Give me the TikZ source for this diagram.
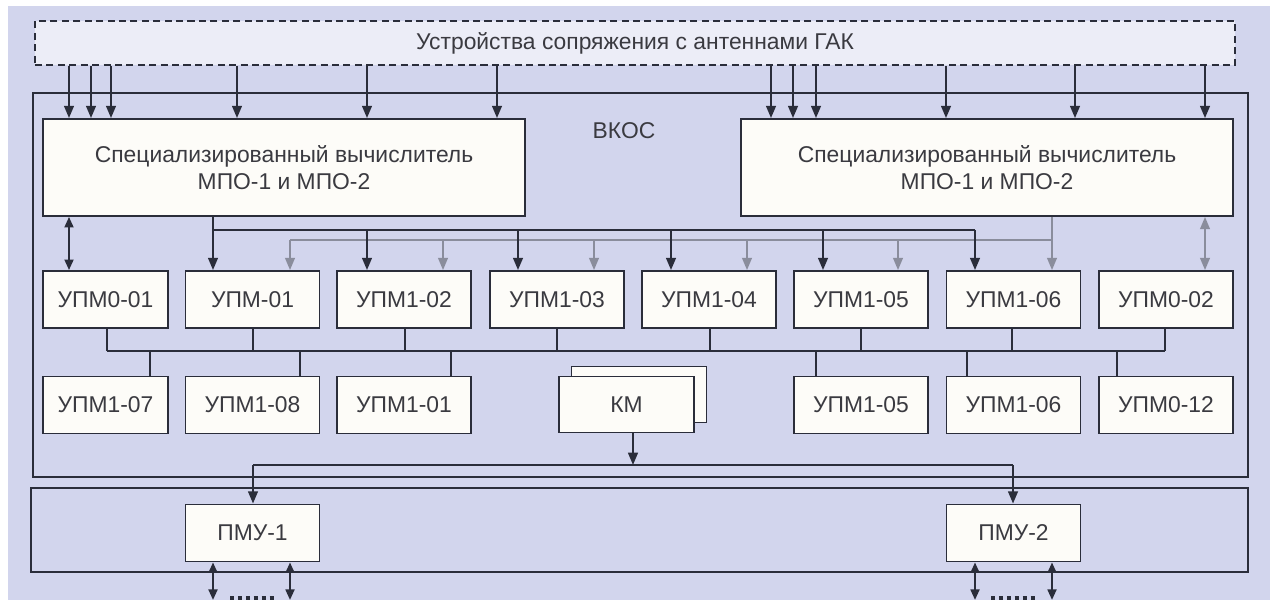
\documentclass[tikz,border=0pt]{standalone}
\usepackage{fontspec}
\setmainfont{Liberation Sans}
\usetikzlibrary{arrows.meta}
\definecolor{bgc}{RGB}{210,213,237}
\definecolor{boxc}{RGB}{253,252,248}
\definecolor{linec}{RGB}{42,45,58}
\definecolor{txtc}{RGB}{58,58,64}
\definecolor{grayc}{RGB}{138,141,156}
\definecolor{gakc}{RGB}{236,237,247}
\begin{document}
\begin{tikzpicture}[x=0.2mm, y=-0.2mm, every node/.style={font=\fontsize{13}{15}\selectfont, text=txtc},
  b/.style={draw=linec, fill=boxc, line width=1pt, minimum width=2.68cm, minimum height=1.14cm, inner sep=0pt, align=center},
  ln/.style={draw=linec, line width=1.3pt},
  thin/.style={draw=linec, line width=0.8pt},
  arr/.style={ln, -{Triangle[length=7pt,width=5.5pt]}},
  darr/.style={ln, {Triangle[length=6pt,width=5pt]}-{Triangle[length=6pt,width=5pt]}},
  gln/.style={draw=grayc, line width=1.2pt},
  garr/.style={gln, -{Triangle[length=7pt,width=5.5pt]}},
  gdarr/.style={gln, {Triangle[length=7pt,width=5.5pt]}-{Triangle[length=7pt,width=5.5pt]}}]
  \useasboundingbox (0,0) rectangle (1270,600);
  \fill[bgc] (8,6) rectangle (1270,600);
  % frames
  \draw[ln] (33,93) rectangle (1248,477);
  \draw[ln] (31,488) rectangle (1248,572);
  \node (vkos) at (624,131) {ВКОС};
  \node[draw=linec, fill=gakc, line width=1pt, dash pattern=on 4pt off 2.5pt, minimum width=24cm, minimum height=0.88cm] (gak) at (635,43) {Устройства сопряжения с антеннами ГАК};
  % computers
  \node[b, minimum width=9.64cm, minimum height=1.94cm] (sv1) at (284,167.5) {Специализированный вычислитель\\МПО-1 и МПО-2};
  \node[b, minimum width=9.84cm, minimum height=1.94cm] (sv2) at (987,167.5) {Специализированный вычислитель\\МПО-1 и МПО-2};
  % first row
  \node[b, minimum width=2.5cm] (u1) at (105.5,299.5) {УПМ0-01};
  \node[b] (u2) at (252.5,299.5) {УПМ-01};
  \node[b] (u3) at (404,299.5) {УПМ1-02};
  \node[b] (u4) at (557,299.5) {УПМ1-03};
  \node[b] (u5) at (709,299.5) {УПМ1-04};
  \node[b] (u6) at (861,299.5) {УПМ1-05};
  \node[b] (u7) at (1013.5,299.5) {УПМ1-06};
  \node[b] (u8) at (1166,299.5) {УПМ0-02};
  % second row
  \node[b, minimum width=2.5cm] (v1) at (105.5,405) {УПМ1-07};
  \node[b] (v2) at (252.5,405) {УПМ1-08};
  \node[b] (v3) at (404,405) {УПМ1-01};
  \node[b, minimum width=2.7cm, minimum height=1.12cm] (kmb) at (639,394.5) {};
  \node[b, minimum width=2.7cm, minimum height=1.12cm] (km) at (626.5,404.5) {КМ};
  \node[b] (v5) at (861,405) {УПМ1-05};
  \node[b] (v6) at (1013.5,405) {УПМ1-06};
  \node[b] (v7) at (1166,405) {УПМ0-12};
  % output units
  \node[b] (pmu1) at (252.5,533) {ПМУ-1};
  \node[b] (pmu2) at (1013.5,533) {ПМУ-2};
  % inputs from the antenna units
  \foreach \x in {69,91,111,237,367,497}
    \draw[arr] (gak.south -| \x,0) -- (sv1.north -| \x,0);
  \foreach \x in {771,793,816,946,1075,1205}
    \draw[arr] (gak.south -| \x,0) -- (sv2.north -| \x,0);
  % gray bus
  \coordinate (gb) at (290,240);
  \coordinate (ge) at (1052,240);
  \draw[gln] (gb) -- (ge);
  \draw[garr] (sv2.south -| ge) -- (u7.north -| ge);
  \foreach \x/\n in {290/u2,443/u3,594/u4,747/u5,898/u6}
    \draw[garr] (\x,240) -- (\n.north -| \x,0);
  \draw[gdarr] (sv2.south -| 1205,0) -- (u8.north -| 1205,0);
  % black bus
  \coordinate (kb) at (213,230);
  \coordinate (ke) at (975,230);
  \draw[ln] (kb) -- (ke);
  \draw[arr] (sv1.south -| kb) -- (u2.north -| kb);
  \foreach \x/\n in {367/u3,518/u4,671/u5,823/u6}
    \draw[arr] (\x,230) -- (\n.north -| \x,0);
  \draw[arr] (ke) -- (u7.north -| ke);
  \draw[darr] (sv1.south -| 69,0) -- (u1.north -| 69,0);
  % link between rows
  \coordinate (mb) at (107,351);
  \coordinate (me) at (1165,351);
  \draw[thin] (mb) -- (me);
  \foreach \x/\n in {107/u1,253/u2,405/u3,557/u4,710/u5,861/u6,1012/u7,1165/u8}
    \draw[thin] (\n.south -| \x,0) -- (\x,351);
  \foreach \x/\n in {150/v1,300/v2,451/v3,816/v5,967/v6,1117/v7}
    \draw[thin] (\x,351) -- (\n.north -| \x,0);
  % to the output units
  \coordinate (pl) at (253,465);
  \coordinate (pr) at (1013,465);
  \draw[arr] (km.south -| 633,0) -- (633,465);
  \draw[thin] (pl) -- (pr);
  \draw[arr] (pl) -- (pmu1.north -| pl);
  \draw[arr] (pr) -- (pmu2.north -| pr);
  \foreach \x in {213,290}
    \draw[darr] (pmu1.south -| \x,0) -- (\x,600);
  \foreach \x in {975,1052}
    \draw[darr] (pmu2.south -| \x,0) -- (\x,600);
  \draw[linec, line width=2pt, dash pattern=on 2.5pt off 2pt] (230,598) -- (276,598);
  \draw[linec, line width=2pt, dash pattern=on 2.5pt off 2pt] (991,598) -- (1037,598);
\end{tikzpicture}
\end{document}
